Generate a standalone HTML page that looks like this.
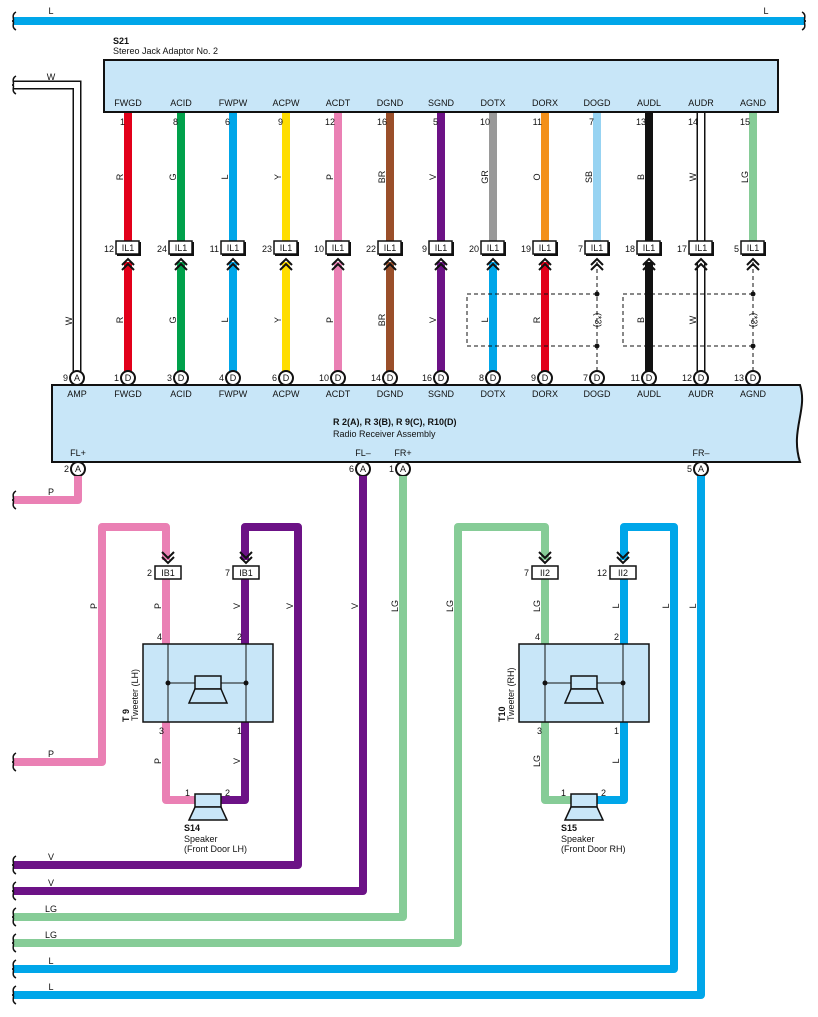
<!DOCTYPE html>
<html><head><meta charset="utf-8"><style>
html,body{margin:0;padding:0;background:#fff}
svg{display:block}
text{font-family:"Liberation Sans",sans-serif;font-size:9px;fill:#111}
.b{font-weight:bold}
.c{text-anchor:middle}
.e{text-anchor:end}
</style></head><body>
<svg width="818" height="1017" viewBox="0 0 818 1017" xmlns="http://www.w3.org/2000/svg">
<defs>
<g id="chev"><path d="M-6,6 L0,0 L6,6 M-6,11 L0,5 L6,11" fill="none" stroke="#111" stroke-width="2"/></g>
<g id="chevd"><path d="M-6,-6 L0,0 L6,-6 M-6,-11 L0,-5 L6,-11" fill="none" stroke="#111" stroke-width="2"/></g>
</defs>

<rect x="13" y="17" width="792" height="8" fill="#00a6e9"/>
<path d="M16,12 C10,15 16,21 12,21 C16,21 10,27 16,30" fill="none" stroke="#111" stroke-width="1.5"/>
<path d="M802,12 C808,15 802,21 806,21 C802,21 808,27 802,30" fill="none" stroke="#111" stroke-width="1.5"/>
<text x="51" y="14" class="c">L</text>
<text x="766" y="14" class="c">L</text>

<path d="M13,85 L77,85 L77,372" fill="none" stroke="#111" stroke-width="9"/>
<path d="M13,85 L77,85 L77,372" fill="none" stroke="#fff" stroke-width="6"/>
<path d="M16,76 C10,79 16,85 12,85 C16,85 10,91 16,94" fill="none" stroke="#111" stroke-width="1.5"/>
<text x="51" y="80" class="c">W</text>
<text transform="translate(72,321) rotate(-90)" class="c">W</text>

<text x="113" y="44" class="b">S21</text>
<text x="113" y="54">Stereo Jack Adaptor No. 2</text>
<rect x="104" y="60" width="674" height="52" fill="#c8e6f8" stroke="#111" stroke-width="2"/>

<g stroke-width="8" fill="none">
<line x1="128" y1="113" x2="128" y2="242" stroke="#e2001a"/><line x1="128" y1="262" x2="128" y2="372" stroke="#e2001a"/>
<line x1="181" y1="113" x2="181" y2="242" stroke="#00a14b"/><line x1="181" y1="262" x2="181" y2="372" stroke="#00a14b"/>
<line x1="233" y1="113" x2="233" y2="242" stroke="#00a6e9"/><line x1="233" y1="262" x2="233" y2="372" stroke="#00a6e9"/>
<line x1="286" y1="113" x2="286" y2="242" stroke="#ffdd00"/><line x1="286" y1="262" x2="286" y2="372" stroke="#ffdd00"/>
<line x1="338" y1="113" x2="338" y2="242" stroke="#ea80b4"/><line x1="338" y1="262" x2="338" y2="372" stroke="#ea80b4"/>
<line x1="390" y1="113" x2="390" y2="242" stroke="#9a4f2a"/><line x1="390" y1="262" x2="390" y2="372" stroke="#9a4f2a"/>
<line x1="441" y1="113" x2="441" y2="242" stroke="#6c1286"/><line x1="441" y1="262" x2="441" y2="372" stroke="#6c1286"/>
<line x1="493" y1="113" x2="493" y2="242" stroke="#999"/><line x1="493" y1="262" x2="493" y2="372" stroke="#00a6e9"/>
<line x1="545" y1="113" x2="545" y2="242" stroke="#f39019"/><line x1="545" y1="262" x2="545" y2="372" stroke="#e2001a"/>
<line x1="597" y1="113" x2="597" y2="242" stroke="#97d3f2"/>
<line x1="649" y1="113" x2="649" y2="242" stroke="#111"/><line x1="649" y1="262" x2="649" y2="372" stroke="#111"/>
<line x1="753" y1="113" x2="753" y2="242" stroke="#86cc97"/>
</g>
<g fill="none">
<line x1="701" y1="113" x2="701" y2="242" stroke="#111" stroke-width="9"/><line x1="701" y1="113" x2="701" y2="242" stroke="#fff" stroke-width="6"/>
<line x1="701" y1="262" x2="701" y2="372" stroke="#111" stroke-width="9"/><line x1="701" y1="262" x2="701" y2="372" stroke="#fff" stroke-width="6"/>
</g>
<g fill="none" stroke="#111" stroke-width="1" stroke-dasharray="4,3">
<line x1="597" y1="262" x2="597" y2="372"/><line x1="753" y1="262" x2="753" y2="372"/>
<rect x="467" y="294" width="130" height="52"/><rect x="623" y="294" width="130" height="52"/>
</g>
<g fill="#111"><circle cx="597" cy="294" r="2.5"/><circle cx="597" cy="346" r="2.5"/><circle cx="753" cy="294" r="2.5"/><circle cx="753" cy="346" r="2.5"/></g>
<text transform="translate(595,320) rotate(90)" class="c">(*3)</text>
<text transform="translate(751,320) rotate(90)" class="c">(*3)</text>

<g>
<text x="128" y="106" class="c">FWGD</text><text x="181" y="106" class="c">ACID</text><text x="233" y="106" class="c">FWPW</text><text x="286" y="106" class="c">ACPW</text><text x="338" y="106" class="c">ACDT</text><text x="390" y="106" class="c">DGND</text><text x="441" y="106" class="c">SGND</text><text x="493" y="106" class="c">DOTX</text><text x="545" y="106" class="c">DORX</text><text x="597" y="106" class="c">DOGD</text><text x="649" y="106" class="c">AUDL</text><text x="701" y="106" class="c">AUDR</text><text x="753" y="106" class="c">AGND</text>
</g>
<g>
<text x="125" y="125" class="e">1</text><text x="178" y="125" class="e">8</text><text x="230" y="125" class="e">6</text><text x="283" y="125" class="e">9</text><text x="335" y="125" class="e">12</text><text x="387" y="125" class="e">16</text><text x="438" y="125" class="e">5</text><text x="490" y="125" class="e">10</text><text x="542" y="125" class="e">11</text><text x="594" y="125" class="e">7</text><text x="646" y="125" class="e">13</text><text x="698" y="125" class="e">14</text><text x="750" y="125" class="e">15</text>
</g>
<g>
<text transform="translate(123,177) rotate(-90)" class="c">R</text>
<text transform="translate(176,177) rotate(-90)" class="c">G</text>
<text transform="translate(228,177) rotate(-90)" class="c">L</text>
<text transform="translate(281,177) rotate(-90)" class="c">Y</text>
<text transform="translate(333,177) rotate(-90)" class="c">P</text>
<text transform="translate(385,177) rotate(-90)" class="c">BR</text>
<text transform="translate(436,177) rotate(-90)" class="c">V</text>
<text transform="translate(488,177) rotate(-90)" class="c">GR</text>
<text transform="translate(540,177) rotate(-90)" class="c">O</text>
<text transform="translate(592,177) rotate(-90)" class="c">SB</text>
<text transform="translate(644,177) rotate(-90)" class="c">B</text>
<text transform="translate(696,177) rotate(-90)" class="c">W</text>
<text transform="translate(748,177) rotate(-90)" class="c">LG</text>
<text transform="translate(123,320) rotate(-90)" class="c">R</text>
<text transform="translate(176,320) rotate(-90)" class="c">G</text>
<text transform="translate(228,320) rotate(-90)" class="c">L</text>
<text transform="translate(281,320) rotate(-90)" class="c">Y</text>
<text transform="translate(333,320) rotate(-90)" class="c">P</text>
<text transform="translate(385,320) rotate(-90)" class="c">BR</text>
<text transform="translate(436,320) rotate(-90)" class="c">V</text>
<text transform="translate(488,320) rotate(-90)" class="c">L</text>
<text transform="translate(540,320) rotate(-90)" class="c">R</text>
<text transform="translate(644,320) rotate(-90)" class="c">B</text>
<text transform="translate(696,320) rotate(-90)" class="c">W</text>
</g>

<g>
<g transform="translate(128,0)"><rect x="-11" y="242" width="24" height="14" fill="#111"/><rect x="-12" y="241" width="23" height="13" fill="#fff" stroke="#111" stroke-width="1.5"/><text x="0" y="251" class="c">IL1</text><use href="#chev" y="259"/></g>
<g transform="translate(181,0)"><rect x="-11" y="242" width="24" height="14" fill="#111"/><rect x="-12" y="241" width="23" height="13" fill="#fff" stroke="#111" stroke-width="1.5"/><text x="0" y="251" class="c">IL1</text><use href="#chev" y="259"/></g>
<g transform="translate(233,0)"><rect x="-11" y="242" width="24" height="14" fill="#111"/><rect x="-12" y="241" width="23" height="13" fill="#fff" stroke="#111" stroke-width="1.5"/><text x="0" y="251" class="c">IL1</text><use href="#chev" y="259"/></g>
<g transform="translate(286,0)"><rect x="-11" y="242" width="24" height="14" fill="#111"/><rect x="-12" y="241" width="23" height="13" fill="#fff" stroke="#111" stroke-width="1.5"/><text x="0" y="251" class="c">IL1</text><use href="#chev" y="259"/></g>
<g transform="translate(338,0)"><rect x="-11" y="242" width="24" height="14" fill="#111"/><rect x="-12" y="241" width="23" height="13" fill="#fff" stroke="#111" stroke-width="1.5"/><text x="0" y="251" class="c">IL1</text><use href="#chev" y="259"/></g>
<g transform="translate(390,0)"><rect x="-11" y="242" width="24" height="14" fill="#111"/><rect x="-12" y="241" width="23" height="13" fill="#fff" stroke="#111" stroke-width="1.5"/><text x="0" y="251" class="c">IL1</text><use href="#chev" y="259"/></g>
<g transform="translate(441,0)"><rect x="-11" y="242" width="24" height="14" fill="#111"/><rect x="-12" y="241" width="23" height="13" fill="#fff" stroke="#111" stroke-width="1.5"/><text x="0" y="251" class="c">IL1</text><use href="#chev" y="259"/></g>
<g transform="translate(493,0)"><rect x="-11" y="242" width="24" height="14" fill="#111"/><rect x="-12" y="241" width="23" height="13" fill="#fff" stroke="#111" stroke-width="1.5"/><text x="0" y="251" class="c">IL1</text><use href="#chev" y="259"/></g>
<g transform="translate(545,0)"><rect x="-11" y="242" width="24" height="14" fill="#111"/><rect x="-12" y="241" width="23" height="13" fill="#fff" stroke="#111" stroke-width="1.5"/><text x="0" y="251" class="c">IL1</text><use href="#chev" y="259"/></g>
<g transform="translate(597,0)"><rect x="-11" y="242" width="24" height="14" fill="#111"/><rect x="-12" y="241" width="23" height="13" fill="#fff" stroke="#111" stroke-width="1.5"/><text x="0" y="251" class="c">IL1</text><use href="#chev" y="259"/></g>
<g transform="translate(649,0)"><rect x="-11" y="242" width="24" height="14" fill="#111"/><rect x="-12" y="241" width="23" height="13" fill="#fff" stroke="#111" stroke-width="1.5"/><text x="0" y="251" class="c">IL1</text><use href="#chev" y="259"/></g>
<g transform="translate(701,0)"><rect x="-11" y="242" width="24" height="14" fill="#111"/><rect x="-12" y="241" width="23" height="13" fill="#fff" stroke="#111" stroke-width="1.5"/><text x="0" y="251" class="c">IL1</text><use href="#chev" y="259"/></g>
<g transform="translate(753,0)"><rect x="-11" y="242" width="24" height="14" fill="#111"/><rect x="-12" y="241" width="23" height="13" fill="#fff" stroke="#111" stroke-width="1.5"/><text x="0" y="251" class="c">IL1</text><use href="#chev" y="259"/></g>
</g>
<g>
<text x="114" y="252" class="e">12</text><text x="167" y="252" class="e">24</text><text x="219" y="252" class="e">11</text><text x="272" y="252" class="e">23</text><text x="324" y="252" class="e">10</text><text x="376" y="252" class="e">22</text><text x="427" y="252" class="e">9</text><text x="479" y="252" class="e">20</text><text x="531" y="252" class="e">19</text><text x="583" y="252" class="e">7</text><text x="635" y="252" class="e">18</text><text x="687" y="252" class="e">17</text><text x="739" y="252" class="e">5</text>
</g>

<path d="M52,385 L800,385 C808,410 790,430 800,462 L52,462 Z" fill="#c8e6f8" stroke="#111" stroke-width="2"/>
<g fill="#fff" stroke="#111" stroke-width="2">
<circle cx="77" cy="378" r="7"/><circle cx="128" cy="378" r="7"/><circle cx="181" cy="378" r="7"/><circle cx="233" cy="378" r="7"/><circle cx="286" cy="378" r="7"/><circle cx="338" cy="378" r="7"/><circle cx="390" cy="378" r="7"/><circle cx="441" cy="378" r="7"/><circle cx="493" cy="378" r="7"/><circle cx="545" cy="378" r="7"/><circle cx="597" cy="378" r="7"/><circle cx="649" cy="378" r="7"/><circle cx="701" cy="378" r="7"/><circle cx="753" cy="378" r="7"/>
<circle cx="78" cy="469" r="7"/><circle cx="363" cy="469" r="7"/><circle cx="403" cy="469" r="7"/><circle cx="701" cy="469" r="7"/>
</g>
<g>
<text x="77" y="381" class="c">A</text><text x="128" y="381" class="c">D</text><text x="181" y="381" class="c">D</text><text x="233" y="381" class="c">D</text><text x="286" y="381" class="c">D</text><text x="338" y="381" class="c">D</text><text x="390" y="381" class="c">D</text><text x="441" y="381" class="c">D</text><text x="493" y="381" class="c">D</text><text x="545" y="381" class="c">D</text><text x="597" y="381" class="c">D</text><text x="649" y="381" class="c">D</text><text x="701" y="381" class="c">D</text><text x="753" y="381" class="c">D</text>
<text x="78" y="472" class="c">A</text><text x="363" y="472" class="c">A</text><text x="403" y="472" class="c">A</text><text x="701" y="472" class="c">A</text>
<text x="68" y="381" class="e">9</text><text x="119" y="381" class="e">1</text><text x="172" y="381" class="e">3</text><text x="224" y="381" class="e">4</text><text x="277" y="381" class="e">6</text><text x="329" y="381" class="e">10</text><text x="381" y="381" class="e">14</text><text x="432" y="381" class="e">16</text><text x="484" y="381" class="e">8</text><text x="536" y="381" class="e">9</text><text x="588" y="381" class="e">7</text><text x="640" y="381" class="e">11</text><text x="692" y="381" class="e">12</text><text x="744" y="381" class="e">13</text>
<text x="69" y="472" class="e">2</text><text x="354" y="472" class="e">6</text><text x="394" y="472" class="e">1</text><text x="692" y="472" class="e">5</text>
<text x="77" y="397" class="c">AMP</text><text x="128" y="397" class="c">FWGD</text><text x="181" y="397" class="c">ACID</text><text x="233" y="397" class="c">FWPW</text><text x="286" y="397" class="c">ACPW</text><text x="338" y="397" class="c">ACDT</text><text x="390" y="397" class="c">DGND</text><text x="441" y="397" class="c">SGND</text><text x="493" y="397" class="c">DOTX</text><text x="545" y="397" class="c">DORX</text><text x="597" y="397" class="c">DOGD</text><text x="649" y="397" class="c">AUDL</text><text x="701" y="397" class="c">AUDR</text><text x="753" y="397" class="c">AGND</text>
<text x="333" y="425" class="b">R 2(A), R 3(B), R 9(C), R10(D)</text>
<text x="333" y="437">Radio Receiver Assembly</text>
<text x="78" y="456" class="c">FL+</text><text x="363" y="456" class="c">FL–</text><text x="403" y="456" class="c">FR+</text><text x="701" y="456" class="c">FR–</text>
</g>

<g fill="none" stroke-width="8" stroke-linejoin="round">
<path d="M78,476 L78,500 L13,500" stroke="#ea80b4"/>
<path d="M363,476 L363,891 L13,891" stroke="#6c1286"/>
<path d="M403,476 L403,917 L13,917" stroke="#86cc97"/>
<path d="M701,476 L701,995 L13,995" stroke="#00a6e9"/>
<path d="M13,762 L102,762 L102,527 L166,527 L166,560" stroke="#ea80b4"/>
<path d="M166,578 L166,800 L195,800" stroke="#ea80b4"/>
<path d="M245,560 L245,527 L298,527 L298,865 L13,865" stroke="#6c1286"/>
<path d="M245,578 L245,800 L220,800" stroke="#6c1286"/>
<path d="M13,943 L458,943 L458,527 L545,527 L545,560" stroke="#86cc97"/>
<path d="M545,578 L545,800 L572,800" stroke="#86cc97"/>
<path d="M624,560 L624,527 L674,527 L674,969 L13,969" stroke="#00a6e9"/>
<path d="M624,578 L624,800 L597,800" stroke="#00a6e9"/>
</g>
<g fill="none" stroke="#111" stroke-width="1.5">
<path d="M16,491 C10,494 16,500 12,500 C16,500 10,506 16,509"/>
<path d="M16,753 C10,756 16,762 12,762 C16,762 10,768 16,771"/>
<path d="M16,856 C10,859 16,865 12,865 C16,865 10,871 16,874"/>
<path d="M16,882 C10,885 16,891 12,891 C16,891 10,897 16,900"/>
<path d="M16,908 C10,911 16,917 12,917 C16,917 10,923 16,926"/>
<path d="M16,934 C10,937 16,943 12,943 C16,943 10,949 16,952"/>
<path d="M16,960 C10,963 16,969 12,969 C16,969 10,975 16,978"/>
<path d="M16,986 C10,989 16,995 12,995 C16,995 10,1001 16,1004"/>
</g>
<g>
<text x="51" y="495" class="c">P</text><text x="51" y="757" class="c">P</text>
<text x="51" y="860" class="c">V</text><text x="51" y="886" class="c">V</text>
<text x="51" y="912" class="c">LG</text><text x="51" y="938" class="c">LG</text>
<text x="51" y="964" class="c">L</text><text x="51" y="990" class="c">L</text>
<text transform="translate(97,606) rotate(-90)" class="c">P</text>
<text transform="translate(161,606) rotate(-90)" class="c">P</text>
<text transform="translate(240,606) rotate(-90)" class="c">V</text>
<text transform="translate(293,606) rotate(-90)" class="c">V</text>
<text transform="translate(358,606) rotate(-90)" class="c">V</text>
<text transform="translate(398,606) rotate(-90)" class="c">LG</text>
<text transform="translate(453,606) rotate(-90)" class="c">LG</text>
<text transform="translate(540,606) rotate(-90)" class="c">LG</text>
<text transform="translate(619,606) rotate(-90)" class="c">L</text>
<text transform="translate(669,606) rotate(-90)" class="c">L</text>
<text transform="translate(696,606) rotate(-90)" class="c">L</text>
<text transform="translate(161,761) rotate(-90)" class="c">P</text>
<text transform="translate(240,761) rotate(-90)" class="c">V</text>
<text transform="translate(540,761) rotate(-90)" class="c">LG</text>
<text transform="translate(619,761) rotate(-90)" class="c">L</text>
</g>

<g>
<rect x="155" y="566" width="26" height="13" fill="#fff" stroke="#111" stroke-width="1.5"/><text x="168" y="576" class="c">IB1</text><use href="#chevd" x="168" y="563"/><text x="152" y="576" class="e">2</text>
<rect x="233" y="566" width="26" height="13" fill="#fff" stroke="#111" stroke-width="1.5"/><text x="246" y="576" class="c">IB1</text><use href="#chevd" x="246" y="563"/><text x="230" y="576" class="e">7</text>
<rect x="532" y="566" width="26" height="13" fill="#fff" stroke="#111" stroke-width="1.5"/><text x="545" y="576" class="c">II2</text><use href="#chevd" x="545" y="563"/><text x="529" y="576" class="e">7</text>
<rect x="610" y="566" width="26" height="13" fill="#fff" stroke="#111" stroke-width="1.5"/><text x="623" y="576" class="c">II2</text><use href="#chevd" x="623" y="563"/><text x="607" y="576" class="e">12</text>
</g>

<g>
<rect x="143" y="644" width="130" height="78" fill="#c8e6f8" stroke="#111" stroke-width="1.5"/>
<line x1="168" y1="644" x2="168" y2="722" stroke="#111"/><line x1="246" y1="644" x2="246" y2="722" stroke="#111"/>
<line x1="168" y1="683" x2="195" y2="683" stroke="#111"/><line x1="221" y1="683" x2="246" y2="683" stroke="#111"/>
<circle cx="168" cy="683" r="2.5" fill="#111"/><circle cx="246" cy="683" r="2.5" fill="#111"/>
<rect x="195" y="676" width="26" height="13" fill="#c8e6f8" stroke="#111" stroke-width="1.5"/>
<path d="M195,689 L221,689 L227,703 L189,703 Z" fill="#c8e6f8" stroke="#111" stroke-width="1.5"/>
<text x="162" y="640" class="e">4</text><text x="242" y="640" class="e">2</text><text x="164" y="734" class="e">3</text><text x="242" y="734" class="e">1</text>
<text transform="translate(129,722) rotate(-90)" class="b">T 9</text>
<text transform="translate(138,721) rotate(-90)">Tweeter (LH)</text>

<rect x="519" y="644" width="130" height="78" fill="#c8e6f8" stroke="#111" stroke-width="1.5"/>
<line x1="545" y1="644" x2="545" y2="722" stroke="#111"/><line x1="623" y1="644" x2="623" y2="722" stroke="#111"/>
<line x1="545" y1="683" x2="571" y2="683" stroke="#111"/><line x1="597" y1="683" x2="623" y2="683" stroke="#111"/>
<circle cx="545" cy="683" r="2.5" fill="#111"/><circle cx="623" cy="683" r="2.5" fill="#111"/>
<rect x="571" y="676" width="26" height="13" fill="#c8e6f8" stroke="#111" stroke-width="1.5"/>
<path d="M571,689 L597,689 L603,703 L565,703 Z" fill="#c8e6f8" stroke="#111" stroke-width="1.5"/>
<text x="540" y="640" class="e">4</text><text x="619" y="640" class="e">2</text><text x="542" y="734" class="e">3</text><text x="619" y="734" class="e">1</text>
<text transform="translate(505,722) rotate(-90)" class="b">T10</text>
<text transform="translate(514,721) rotate(-90)">Tweeter (RH)</text>
</g>

<g>
<rect x="195" y="794" width="26" height="13" fill="#c8e6f8" stroke="#111" stroke-width="1.5"/>
<path d="M195,807 L221,807 L227,820 L189,820 Z" fill="#c8e6f8" stroke="#111" stroke-width="1.5"/>
<text x="190" y="796" class="e">1</text><text x="225" y="796">2</text>
<text x="184" y="831" class="b">S14</text><text x="184" y="842">Speaker</text><text x="184" y="852">(Front Door LH)</text>
<rect x="571" y="794" width="26" height="13" fill="#c8e6f8" stroke="#111" stroke-width="1.5"/>
<path d="M571,807 L597,807 L603,820 L565,820 Z" fill="#c8e6f8" stroke="#111" stroke-width="1.5"/>
<text x="566" y="796" class="e">1</text><text x="601" y="796">2</text>
<text x="561" y="831" class="b">S15</text><text x="561" y="842">Speaker</text><text x="561" y="852">(Front Door RH)</text>
</g>
</svg>
</body></html>
